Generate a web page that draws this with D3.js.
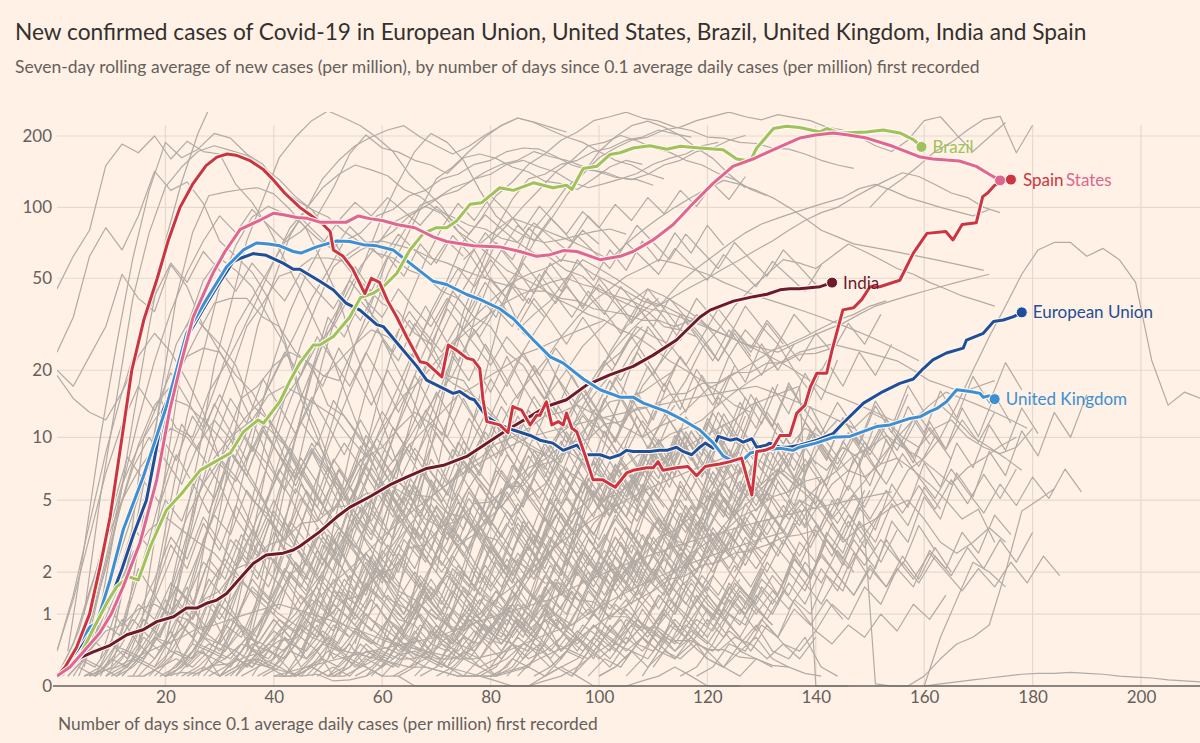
<!DOCTYPE html>
<html><head><meta charset="utf-8">
<script src="https://cdn.jsdelivr.net/npm/d3@7"></script>
<style>body{margin:0;background:#fff1e5;} svg{display:block}</style>
</head><body><svg id="c" width="1200" height="743"></svg>
<script>
// ---------- DATA ----------
const titleText = "New confirmed cases of Covid-19 in European Union, United States, Brazil, United Kingdom, India and Spain";
const subtitleText = "Seven-day rolling average of new cases (per million), by number of days since 0.1 average daily cases (per million) first recorded";
const xTitleText = "Number of days since 0.1 average daily cases (per million) first recorded";
const yTicks = [0, 1, 2, 5, 10, 20, 50, 100, 200];
const xTicks = [20, 40, 60, 80, 100, 120, 140, 160, 180, 200];

const spain = [[0,0.1],[1.5,0.2],[3.6,0.45],[6,1.0],[8,2.2],[9.8,4.1],[12,10],[13.8,20],[16,33],[18.5,50],[20.5,72],[22.7,100],[25,125],[27.5,150],[29.5,163],[31.4,168],[33,166],[35.5,158],[38,145],[40,130],[42,115],[44.8,100],[47,92],[49,85],[50.4,79],[51,66],[52.8,62],[54.5,55],[56.8,43],[58,50],[59.5,48],[61,40],[62.7,34],[64.5,28],[67,21.8],[68.2,21.5],[71,18.7],[72.2,25.8],[73.7,24.5],[75.6,22.6],[76.8,22.2],[78,20.4],[78.6,14.8],[79.3,11.8],[81.7,11.4],[83.2,10.5],[84.1,13.8],[85.7,13.3],[87.3,11.4],[88.5,12.6],[89.1,12.6],[90.3,14.5],[91.3,11.4],[92.5,11.8],[93.4,11.4],[94,12.9],[95,11.0],[95.9,10.6],[97.4,8.3],[98.9,6.3],[100.7,6.3],[103,5.8],[105.1,6.8],[106.3,7.0],[108.8,7.2],[110,7.2],[110.9,7.7],[111.8,7.0],[114.3,7.2],[116.4,7.3],[118,6.6],[119.6,7.3],[120.8,7.4],[122.3,7.5],[124.2,7.7],[126.3,8.0],[128.2,5.3],[129.1,8.6],[130.6,8.7],[132.1,9.0],[133.4,10.2],[135.2,10.2],[136.5,12.9],[138,14],[139,16.9],[140.2,19.4],[142,19.4],[143,24.5],[144,30],[145,36.6],[147,37.4],[148.5,40.6],[150,46],[151.8,46],[155.5,49],[158,64],[160.5,77.6],[164,79],[165.3,72.8],[167,84.6],[169.6,86],[170.8,111],[171.7,115],[173,124],[174.5,129],[176,131]];
const unitedStates = [[0,0.1],[2.4,0.2],[5,0.4],[7.9,0.67],[10,1.0],[12.2,1.6],[15.3,2.97],[18.4,6.3],[20.8,13.3],[23,22],[25.1,34],[28.8,52.7],[31,65],[33.8,80.7],[37.5,88.4],[40,94.5],[41.8,93],[44.3,90.6],[46,90],[48.5,86.6],[53.4,86.6],[55.6,92],[57.7,89.6],[60,88],[62.7,84.6],[66,82],[69.4,75],[71.9,71.7],[76.8,68.7],[81.7,68],[85.4,65],[88.5,62],[91,63],[93.4,65.6],[95.9,65],[100.2,60],[103.9,62],[106.3,65],[110,72.8],[113.7,84.6],[117.4,104],[121,126],[124.7,149],[128.4,160],[132.1,175],[137,196],[140,202],[143.2,206],[146,202],[149.4,196],[154.2,181],[159.3,163],[161.6,160],[166.5,157],[169.6,149],[172,138],[174,130]];
const brazil = [[0,0.1],[2,0.2],[4.2,0.33],[6.5,0.7],[9.2,1.23],[11,1.6],[13.2,1.87],[15,1.78],[17.2,2.83],[20.2,4.46],[23,5.4],[26.4,7.0],[28.8,7.6],[32,8.45],[34.4,10.6],[37.1,12.0],[38.1,11.6],[39.6,13.0],[41.1,14.5],[43,18],[44.8,21.5],[47.3,25.8],[48.5,25.8],[51,28.1],[54,34],[56,41.3],[58.4,43.2],[60.2,46],[62.7,52.5],[65.1,66],[67.6,77.6],[70,82],[71.9,82],[73.7,87.5],[76.2,103],[78.3,104.5],[81.7,121],[84.2,118],[87.9,127],[91.5,121],[94,124],[95,119],[97.1,146],[99.6,149],[102,167],[103.9,170],[106.3,178],[109.4,182],[112.5,176],[115,181],[118.6,178],[122.9,175],[125.4,160],[127.9,157],[129.1,178],[132.2,215],[134.6,220],[137,217],[140.8,208],[142,215],[144.4,206],[149.4,208],[152.4,212],[155.5,206],[158,193],[159.5,180]];
const unitedKingdom = [[0,0.1],[1.2,0.17],[3.5,0.45],[6.1,0.77],[7.3,0.83],[9.8,1.78],[12.2,3.5],[15.9,6.5],[20.2,13.8],[23.9,28.9],[27.6,40.6],[31.3,56],[34.4,66],[36.8,70.6],[39,70],[41.1,68.7],[43.6,65],[45,64],[47.9,68],[51.6,72],[54,71.7],[56.5,69.5],[59,68.7],[62,66],[65.1,58],[69.4,48.5],[71.9,47],[75.6,42.6],[78,40.6],[81.7,37],[84.2,33.5],[87.9,27.1],[91,22.9],[93.4,21.5],[97.1,18.3],[100.2,16.4],[103.9,15.2],[106.3,15.2],[108.2,14.3],[112.5,13.1],[115.5,12],[118.6,10.8],[121.1,9.4],[122.9,8.2],[124.8,7.7],[126.6,7.85],[127.9,8.45],[130.3,8.7],[133.4,8.9],[135.8,8.7],[137,9.0],[140,9.4],[143.2,10],[146.3,10.1],[151.2,11.2],[153.7,11.4],[157.4,12.2],[159.2,12.4],[161,13.1],[162.3,13.5],[164.1,14.5],[166,16.4],[168.5,16.1],[170.3,15.8],[170.9,15.2],[172,15.4],[173,14.9]];
const europeanUnion = [[0,0.1],[2,0.25],[5,0.55],[8,0.95],[10,1.35],[12,2.1],[14.1,3.3],[16.5,5.0],[18,8],[19.6,13.3],[21,16],[23.3,26.3],[27.6,39],[30,48],[32.5,58.8],[34,61],[36.2,63.7],[38.6,62.6],[41.7,58],[43.6,54.6],[44.8,54.6],[48.5,48.5],[51,44.5],[53.4,39],[55.9,36.5],[59,31.6],[60.2,31],[63.3,25.4],[66.4,20.8],[68.2,18.1],[70.7,16.9],[73.1,15.8],[74.3,16.1],[76.2,15],[77,14.8],[79.3,12.4],[81.7,11.4],[84.2,10.8],[87.3,10.2],[89.1,9.7],[91.5,9.4],[93.4,8.7],[95.9,9.2],[97.7,8.3],[100.2,8.3],[102,8.0],[103.9,8.3],[105.1,8.7],[106.3,8.6],[109.4,8.6],[111.2,8.7],[112.5,8.7],[114.3,9.0],[115.5,8.6],[117.1,8.3],[118.6,9.0],[119.6,9.4],[121.1,8.9],[122,10.1],[124.2,9.7],[125.4,9.85],[126.6,9.5],[128.2,9.85],[129.1,9.0],[130.9,9.2],[131.5,9.4],[133.4,9.0],[135,9.0],[137,9.2],[140.2,9.7],[143.2,10.4],[145,11.6],[148.8,14.3],[152.4,16.1],[155.5,17.5],[158,18.3],[159.8,20.3],[161.6,22.2],[164.1,23.8],[167.2,25],[167.8,27.1],[170.9,29],[172.8,32.6],[174.6,33.1],[176.5,34.2],[178,35.7]];
const india = [[0,0.1],[2.4,0.2],[4.2,0.31],[6.7,0.39],[9.8,0.48],[12.9,0.64],[15.9,0.72],[18.4,0.86],[21.5,0.95],[23.9,1.12],[25.8,1.12],[27.6,1.22],[29.5,1.29],[31.3,1.44],[33.2,1.73],[36.2,2.26],[38.6,2.54],[41.7,2.6],[43.6,2.71],[44.8,2.85],[48.5,3.43],[51.6,4.1],[54,4.6],[57.7,5.2],[61.4,5.95],[64.5,6.5],[68.2,7.15],[71.3,7.4],[75.6,8.15],[79.3,9.4],[83,10.8],[86.7,12.2],[90.3,13.8],[94,14.8],[97.7,17.2],[102,19.1],[106.3,20.8],[110,23.3],[114.3,27.1],[118.6,34],[120.5,36.5],[124.8,39.9],[128.5,41.7],[131,42.7],[133.4,44.6],[135.2,45.1],[137,45.1],[140.8,46],[143,47.9]];

// background countries: first day, then values every 3 days
const greyStart = [0,0,0,0,5,2,10,20,30,35,25,10,40,15,20,45,70,5,25,15,20,50,30,40,15,3,8,12,18,22,28,5,35,10,45,60,70,80,90,100,110,0,2,5,15,20,0,0,30,40,157,160,160,148,150,120,125,95,100,60,100,110,85,75,0,3,6,9,12,25,33,50,65,1,4,7,
  0,1,2,4,6,8,10,12,14,16,18,20,22,24,26,28,30,32,34,36,38,40,42,44,46,48,52,55,58,62,66,70,75,80,85,90,95,100,105,115,
  20,30,40,50,60,25,55,35,45,65,
  0,3,5,7,9,11,13,17,19,21,23,27,31,33,37,41,47,51,57,63,67,72,78,83,88,98,108,118,2,0];
const greyValues = [
[45,62,80,150,185,170,200,160,190,172,168,125,105,82,60,44,31,22,14,9,6,4,3,2.2,1.6,1.1,0.8,0.6,0.5,0.3,0.4,0.6,1.1,2,3.5,5,8,11,14],
[24,34,62,82,66,92,142,118,128,104,72,62,53,41,27,16,11,7,4.5,3,2.1,1.4,1.1,0.7,0.5,0.3,0.2,0.3,0.5,0.9,1.5,2.6,4,6.5,9,12,17,21,26,31],
[20,17,23,31,52,41,36,57,46,31,26,21,14,12,8,6.2,4.1,3.2,2.1,1.6,1.3,0.9,0.8,0.5,0.4,0.6,0.5,0.9,1.2,1.8,2.4,3.1,2.6,3.8,4.6,5.9,7.3,6.1],
[19,15,13,12,16,23,29,24,18,13,8,6.5,5,4.2,3,2.6,1.9,1.4,1.1,0.8,0.6,0.5,0.35,0.3,0.2,0.15,0.1,0.1,0.15,0.2,0.1],
[0.2,1.1,4,12,31,72,128,205,290],
[0.4,2.8,10,26,61,118,188,162,176,205,196,168,152,122,108,98,79,61,46,31,22,16,11,7,5,3.5,2.4,1.7,1.1,0.8,0.5,0.4,0.3],
[0.2,1,4.2,15,41,78,112,116,119,121,114,98,81,58,41,24,16,10,6.2,4.1,3,2.2,1.8,1.3,1.1,1.5,2.3,3.6,5.2,7.7],
[1,3.2,8,21,38,72,108,162,198,232,255,238,221,197,172,138,118,101,79,71,62,54,50,46,41,38,35,33],
[0.5,2.1,5,11,15,19,26,31,42,61,92,128,172,205,188,158,118,92,81,74,71,73,76,79,81,77],
[0.5,2,5.2,10,19,31,41,56,69,86,94,101,112,118,132,138,152,158,148,141,128,121,126,132,139,152,161,168,182,188],
[1,4,9.5,15,17,21,24,22,19,18,26,34,52,71,98,132,148,172,198,222,238,228,212,198,188,172,158,151,139,132],
[0.5,2.2,10,15,11,10,16,21,29,41,59,82,98,132,158,182,198,212,221,198,182,168,181,202,221,238,229,218,208],
[0.3,1,3.1,8,15,26,39,61,79,102,109,121,128,141,152,158,172,164,158,149,141,134,131,138,151,158,172,178,192,201],
[0.5,1.4,4,8.5,12,19,31,41,54,71,79,92,121,168,202,178,171,158,151,139,162,168,161,148,141,129,126,119,132,148,158,152],
[0.5,2,5.2,8,10,12.5,15,21,29,41,54,72,78,92,98,112,118,132,138,152,158,172,178,176,164,151,144,141,133,131,124],
[0.3,1,2.1,4,6.3,10,15,24,36,49,72,88,112,128,152,168,192,208,232,241,252,238,231,218,211,198,196,188,186,178,176,168,158,151,146],
[2,5.3,10,19,36,54,81,98,122,138,162,178,192,198,212,218,232,242,252,241,234,246,239,232,218,212,198,182,172,192,232,241,202,172,198,228],
[1,5.2,15,41,78,122,148,172,182,174,166,148,131,111,98,91,79,71,64,61,54,51,44,41,34,31,24,21,16,12.5,9,7],
[0.5,2.1,6,15,31,49,76,99,121,138,151,144,136,119,111,98,91,84,81,74,71,64,61,54,51,44,41,38,36,31,30,28],
[0.4,1.6,5,12.5,24,46,69,91,101,94,86,74,66,54,46,39,36,29,26,19,18,14,12,10,9,8.2,10.5,12,15.5,19,26,31],
[0.5,2.2,6,12,19,31,39,51,54,61,61,59,66,71,79,92,101,94,79,66,49,41,29,26,19,15,12,10.5,8,6.2,5],
[0.3,1.1,3,6.2,10,15,21,29,41,54,71,84,101,119,141,158,182,188,201,191,178,171,158,151,139,131,119,112],
[0.3,1,3.2,8,15,26,39,56,64,71,72,69,66,61,58,54,51,48,46,44,44,41,40,37,36,35,33,33,31,33,35],
[0.2,0.5,1.1,2,2.9,4.1,5,7.2,9,12,15.5,19,27,33,43,54,71,88,112,138,172,198,221,231,218,201,178,161,138,121],
[0.5,3.1,10,31,49,61,54,46,34,26,15,10,6.2,4,3.1,2.4,3.2,5,10.5,19,36,54,81,108,132,138,152,158,172,178,192,198,212,204,198],
[0.2,0.8,2.1,5,9.2,14,17,23,25,24,19,16,12,9.5,7,5.2,3.8,3.1,2.4,2,1.5,1.3,1,0.8,0.7,0.9,1.3,2,3.1,5.2,8,12.5,17,24,31,36,41],
[0.3,1.1,3,6.2,12,21,29,39,41,41,34,31,24,21,14,12.5,10,8,5.8,5.2,4,3.6,2.9,3.3,4.1,5,6.2,7.8,10,13.5,16,21,24,31,28,26],
[0.2,0.5,1.3,2.4,4.1,6,7.8,10.5,12,11,9.2,6.8,5.1,4,3,2.1,1.4,1.2,1,1.4,2,3.1,3.9,5.2,6,7.2,7.9,9.1,8,6.9,6.1,5,4.2,3.5,3.1,2.8],
[0.2,0.6,1.4,3.1,5,8.2,12,15.5,17,15.5,14,12.5,10,8.1,9,11,13,11.5,10,7.8,6.2,5,4.1,5.2,6,8.1,10,12,14.5,15,16,18,20],
[0.2,0.4,0.8,1.6,2.4,4.1,6,9.2,13,18.5,22,26,30,28,24.5,22,20,17.5,16,14,11.5,10,9,8.1,7,6.2,5,5.3,6,7.2,8,9.3],
[0.2,0.3,0.5,0.8,1.2,1.9,2.4,3.6,5,7.2,9,12,15.5,18,22,26,30,34,38.5,42,45,48,50,47,45,42,40,37,36,34,32,30,28],
[0.3,1.6,4,7.2,10,7.8,6,9.2,12,9.8,7,5.1,3,2.1,1.5,1,0.8,0.6,0.5,0.4,0.3,0.2,0.15,0.1,0.1,0.2,0.3,0.5,0.8,1,1.5],
[0.2,0.4,0.7,1,1.6,2.2,3.1,4,5.6,7,9.2,11,13,15.5,17,19,21,23.5,25,27,29,31,33,30,28,25,22,20,18,16,14,13],
[0.5,2.1,6,14,26,35,29,22,15,10.5,7,5.2,3.5,2.4,1.8,1.2,0.9,0.7,0.5,0.4,0.3,0.3,0.4,0.6,1,1.5,2.4,4,6.2,9,13,18,24,30],
[0.1,0.3,0.6,1,1.6,2,3.1,4,5.2,6,7.2,8,9.3,10,11,12.5,13,14,12.8,12,11,10,11.2,12,14,16.5,18,20,22,24.5,26,28,30.5,33,35,38,40],
[0.2,0.5,1,2.1,3,5.2,7,10,14.5,18,22,28,34,40,45,51,55,60,58,55,52,48,45,42,40,38,36,34,32,30,28,26,24,22],
[0.2,0.6,1.5,3.1,5,8.2,12,16,20,25.5,30,35,40,45,42,38,34,30,28,26,24,22,20,18,16,15,14,13,12,12,13,14,12,10,9,8,7],
[0.2,0.5,1,2.1,3,4.2,5,6.1,7,8.2,9,10.3,11,12,14,16,18,20,22,24,25,26,25,24,23,22,20,18,17,16,17,18],
[0.1,0.3,0.6,1,1.5,2.1,2.5,3.2,3.5,4.1,5,6.2,7,6,5.2,4,5,6.1,7,8.2,9,10.2,9,8.1,7,6,7.2,8,9.1,10],
[0.1,0.2,0.4,0.7,1,1.6,2,3.1,4,5.2,6,7.1,6,5.1,4,3,3.6,4,4.6,5,4,3,2.6,3,3.6,3],
[0.2,0.5,1,2.1,3,4.2,5,6.1,7,6,5.2,4,5,6.2,8,10,12,14,16,15,14,13,12,11],
[0.1,0.25,0.4,0.7,0.8,1.1,1.2,1,0.9,0.6,0.5,0.4,0.25,0.2,0.15,0.1,0.12,0.05,0.06,0.1,0.2,0.35,0.4,0.3,0.2,0.1,0.1,0.05,0,0,0.05,0.1,0.2,0.35,0.5,0.8,1.2,1.7,2,2.6,3,3.4,4.1,4.5,5.2,5.5,6.2,6.5],
[0.1,0.3,0.7,1.5,2.6,3.5,4.1,3.5,3,2.6,2,1.6,1.3,1,0.8,0.6,0.5,0.4,0.35,0.3,0.25,0.2,0.2,0.15,0.1,0.1,0.1,0.15,0.2,0.3,0.4,0.5,0.7,0.9,1.1,1.3,1.5,1.8,1.9,2.2,2.3,2.6,2.7,2.9,3.2,3.3,3.5],
[0.1,0.15,0.2,0.3,0.4,0.5,0.6,0.75,0.8,0.9,1,1.1,1.2,1.1,1,0.9,0.8,0.7,0.6,0.5,0.45,0.4,0.35,0.3,0.3,0.35,0.4,0.5,0.6,0.7,0.8,1,1.2,1.4,1.6,1.8,2,2.2,2.4,2.6,2.8,3,3.2,3.4],
[0.1,0.3,0.6,0.8,1.3,1.5,2.1,2.3,2.9,3.1,3.8,3.9,4.6,4.7,5.4,5.5,6.1,5.3,5.2,4.3,4.1,3.3,3.1,2.4,2.1,1.7,1.7,1.3,1.25,0.95,0.95,0.75,0.75,0.55,0.55,0.42,0.42,0.32,0.3,0.22,0.2,0.13,0.1],
[0.1,0.14,0.13,0.22,0.24,0.33,0.38,0.55,0.58,0.85,0.95,1.3,1.4,1.9,2.1,2.8,2.9,3.7,3.9,4.8,4.9,5.8,5.9,7.4,7.8,9.5,9.8,11.5,11.8,13.6,13.8,15.6,15.8,17.5,17.7,19.5,19.6,21.5,21.6,23.5,23.7,25],
[0.1,0.5,1.5,3,5,7,9,11,10,8,6,4,3,2,1.5,1,0.7,0.5,0.3,0.2,0.1,0.1,0,0,0,0,0,0,0,0,0.1,0.2,0.1,0,0,0,0.05,0.1,0.2,0.1,0,0,0],
[0.1,0.3,1,3,6,9,12,15,14,12,10,8,6,4.5,3.5,2.5,1.8,1.2,0.9,0.6,0.4,0.3,0.3,0.4,0.6,0.8,1,1.3,1.6,2,2.5,3,3.5,4,4.5,5,5.5,6,6.5,7,7.5,8,8.5],
[0.1,0.2,0.3,0.5,0.7,1,1.3,1.7,2.1,2.6,3.2,3.8,4.5,5.2,6,6.8,7.6,8.4,9.2,10,10.5,11,11.5,12,12.5,13,13.5,14,14.5,15,15.5,16,16.5,17,16,15,14,13,12,11],
[0.1,0.15,0.2,0.25,0.3,0.35,0.4,0.45,0.5,0.55,0.6,0.7,0.8,0.9,1,1.1,1.2,1.3,1.5,1.7,1.9,2.1,2.3,2.5,2.7,2.9,3.1,3.3,3.5,3.7,3.9,4.1,4.3,4.5,4.7,4.9,5.1,5.3,5.5],
[0,0.1,0.3,0.5,0.6,0.8,2,4.4,5,5.7],
[0,0.6,1.3,2.3,2,1.6],
[0,0.02,0.04,0.06,0.08,0.1,0.12,0.13,0.13,0.14,0.13,0.12,0.1,0.09,0.08,0.06,0.05,0.04],
[3,4,5,7,8,10,14,20,28,38,52,66,71,71,62,67,60,48,22,14,16,15],
[100,118,132,150,172,188,212,235,242,170,222],
[4,6,5,8,7,9,11,10,12,11,13,12,10,9,11,12,10,9,8.4,9,11],
[2,3,2.5,4,5,4.5,6,7,6.5,7.5,8,7,6,5,4,4.5,3],
[3,4,5,6,5,7,8,9,10,11,12,14,15,16,17,0,0,0],
[1,2,1.5,3,2,4,3,5,4,6,5,7,6,8,7,9,8,0.02,0,0],
[5,8,12,18,25,30,36,42,48,52,55,60,58,52,48,44,40,38,42,46,50,55,60,66,72,80,88,95,100,110,120,130,140,135,125,115,110,100,95],
[20,25,30,35,40,48,55,62,70,78,85,90,95,100,105,110,120,125,118,110,105,100,96,92,98],
[10,14,18,25,30,38,45,52,60,58,55,62,70,65,60,55,52,48,45,42,40,38],
[30,35,40,50,60,55,50,45,40,38,35,33,30,28,26,25,24,26,28,30,32,35,38,40,42,44,46,48,50,52],
[60,70,80,90,85,80,75,70,65,60,70,80,90,100,110,120,130,125,118,110,100,90,80,75,70,68,66,64,62,60,58,56,54],
[0.1,0.2,0.6,0.4,0.9,0.5,0.3,0.7,0.2,0.4,0.1,0.3,0.6,0.2,0.1,0.4,0.8,0.3,0.5,0.2,0.1,0.3,0.7,0.4,0.2,0.6,0.3,0.1,0.2,0.5,0.9,0.4,0.6,0.3,0.8,0.5,1.1,0.7,0.4,0.6,0.3,0.2,0.5,0.8,0.4,0.3,0.6,0.2,0.1],
[0.1,0.4,1.2,0.8,2.1,1.4,0.9,1.6,0.7,0.5,0.9,0.4,0.3,0.6,0.2,0.4,0.1,0.2,0.5,0.3,0.7,1.1,0.6,0.9,0.4,0.3,0.7,1.2,0.8,1.6,1.1,2,1.4,0.9,1.3,0.8,0.5,0.9,0.6,1.1,0.7,0.4,0.6,0.3,0.2],
[0.1,0.2,0.5,1,1.8,3.2,2.4,4.1,3,2.2,3.5,2.6,1.8,1.2,1.6,0.9,0.6,1,0.7,0.4,0.6,0.3,0.2,0.4,0.2,0.1,0.3,0.2,0.5,0.3,0.6,0.4,0.2,0.5,0.8,0.5,0.3,0.6,0.4,0.2,0.1,0.3,0.2],
[0.1,0.2,0.3,0.6,0.4,0.8,1.3,0.9,1.5,2.2,1.6,2.8,2,3.3,2.5,1.8,2.6,1.9,1.3,2,1.4,0.9,1.5,1.1,0.7,1.2,0.8,0.5,0.9,0.6,0.4,0.7,1.1,0.8,1.4,1,1.7,1.2,0.9,1.5,1.1,0.8],
[0.1,0.3,0.7,1.4,2.8,5.1,7.5,6.2,9.1,7.4,5.6,8,6.1,4.4,5.9,3.8,2.9,4.2,3.1,2.2,3.4,2.5,1.7,2.6,1.8,1.2,1.9,1.4,2.2,1.6,2.5,3.6,2.7,4,3.1,4.6,3.5,5.2,4.1,3.2],
[0.1,0.2,0.4,0.8,0.6,1.2,1.9,1.4,2.5,3.6,2.8,4.3,3.3,5.2,4.1,6.4,5,7.3,5.8,4.6,6.2,4.9,3.7,5.1,3.9,2.8,4,3.1,2.2,3.3,2.5,3.8,2.9,2.1,3.2,2.4],
[0.1,0.3,0.2,0.6,0.4,1,0.7,1.5,1.1,2.1,1.6,2.9,2.2,3.8,2.9,4.7,3.6,2.7,3.9,2.9,2,3,2.2,1.5,2.4,1.7,1.1,1.8,1.3,0.8,1.4,1,1.7,1.2,2,1.5,2.6,1.9,3.1,2.3],
[0.1,0.2,0.5,0.3,0.8,0.6,1.4,1,2,1.5,2.8,2.1,3.9,2.9,5.1,3.8,6.4,4.9,7.6,5.8,8.7,6.6,5,7.2,5.5,4.1,6,4.6,3.4,5,3.8,2.8,4.2,3.2,2.3,3.5],
[0.2,0.4,0.3,0.7,0.5,1.1,0.8,1.6,1.2,2.3,1.7,3.1,2.4,1.8,2.7,2,1.4,2.2,1.6,1.1,1.8,1.3,0.9,1.5,1.1,0.7,1.2,0.9,1.6,1.2,2.1,1.6,2.7,2.1,3.4,2.6,4.2,3.3],
[0.1,0.3,0.2,0.5,0.4,0.9,0.6,1.3,0.9,1.8,1.3,2.5,1.8,3.4,2.5,4.5,3.3,5.8,4.3,7.2,5.4,8.9,6.7,10.5,8,12.2,9.3,13.8,10.6,15.3,11.8,9.5,12.6,10.1,8.2,11],
[0.2,0.1,0.3,0.2,0.6,0.4,0.9,0.6,1.3,0.9,1.8,1.3,2.4,1.7,1.2,1.9,1.4,0.9,1.5,1.1,0.7,1.2,0.8,0.5,0.9,0.6,1.1,0.8,1.4,1,1.8,1.3,2.3,1.7,2.9,2.2,3.6,2.7,4.4],
[0.1,0.2,0.4,0.3,0.7,1.2,0.9,1.6,2.4,1.8,3,2.3,3.9,3,2.2,3.4,2.6,1.9,2.9,2.2,1.6,2.5,1.9,1.4,2.2,1.6,2.6,2,3.2,2.5,3.9,3.1,4.8,3.8,5.9,4.6],
[0.4,1.3,3.2,6.8,11.5,17,13.2,19.5,14.8,11,15.6,11.7,8.6,12.3,9.2,6.6,9.5,7,5,7.4,5.5,3.9,5.8,4.3,3.1,4.6,3.4,2.4,3.6,2.7,4,3,4.4,3.3,4.9,3.7,2.7],
[0.2,0.7,1.9,4.3,8.1,6.3,10.2,7.8,12.5,9.6,7.2,10.8,8.1,6,8.9,6.6,4.8,7.1,5.3,3.9,5.8,4.3,3.1,4.6,3.4,5.1,3.8,5.7,4.3,6.4,4.8,7.2,5.4,8.1,6.1],
[0.1,0.3,0.2,0.5,0.9,0.6,1.3,0.8,0.5,0.9,0.4,0.2,0.5,0.3,0.1,0.3,0.6,0.4,0.8,1.2,0.7,0.4,0.9,0.5,0.3,0.6,1,0.6,0.3,0.5,0.2,0.1,0.3,0.6,0.9,0.5,0.8,1.3,0.9,0.6,1.1,0.7,0.4,0.8,0.5,0.3,0.6],
[0.1,0.6,1.8,3.5,6.2,4.8,8.3,6.1,4.3,6.9,4.8,3.2,5,3.4,2.2,3.6,2.3,1.5,2.5,1.6,1,1.7,1.1,0.7,1.2,0.8,0.5,0.9,0.6,1.1,0.7,1.3,0.9,1.7,1.2,2.2,1.6,2.8,2,3.4,2.5,4.1,3],
[0.1,0.2,0.4,0.3,0.6,0.5,0.9,0.7,1.2,0.9,1.6,1.2,2.1,1.6,2.7,2,3.3,2.4,1.8,2.6,1.9,1.3,2,1.4,0.9,1.5,1,0.6,1.1,0.7,0.4,0.8,0.5,0.3,0.6,0.4,0.8,0.5,0.9,0.6,1.1,0.7,1.3],
[0.1,0.5,1.4,3.1,6.4,11.5,8.8,14.2,10.6,7.8,11.3,8.2,5.9,8.6,6.1,4.3,6.3,4.4,3.1,4.5,3.2,2.2,3.3,2.3,1.6,2.4,1.7,1.2,1.8,1.3,2,1.4,2.2,1.6,2.5,1.8,2.8,2.1,3.2,2.4],
[0.1,0.2,0.5,0.9,1.6,1.2,2.4,1.8,3.3,2.5,4.4,3.3,5.6,4.2,7,5.3,8.4,6.4,4.8,7,5.3,3.9,5.8,4.3,3.2,4.8,3.5,2.6,3.9,2.9,2.1,3.2,2.4,1.8,2.7,2,3,2.2,3.4,2.5],
[0.1,0.3,0.2,0.4,0.3,0.6,0.4,0.8,0.6,1.1,0.8,1.4,1,1.8,1.3,2.3,1.7,2.9,2.1,3.5,2.6,4.2,3.1,5,3.7,5.9,4.4,6.8,5.1,7.8,5.9,8.7,6.6,9.8,7.4,5.6,8.3,6.3,9.2],
[0.1,0.4,1.1,2.6,5.2,9.4,15,11.6,18.3,13.9,10.4,15.2,11.3,8.3,12,8.8,6.4,9.3,6.8,4.9,7.1,5.2,3.8,5.5,4,2.9,4.2,3.1,2.2,3.3,2.4,3.5,2.6,3.8,2.8,4.1,3],
[0.1,0.2,0.3,0.2,0.4,0.3,0.5,0.4,0.7,0.5,0.9,0.6,1.1,0.8,1.3,0.9,0.6,1,0.7,0.5,0.8,0.5,0.3,0.6,0.4,0.2,0.4,0.3,0.6,0.4,0.8,0.5,1,0.7,1.3,0.9,1.6,1.1,2],
[0.1,0.3,0.8,1.9,3.6,6.6,11,17,24,19,28,22,17,24,18,13,19,14,10,15,11,8,12,9,6.5,9.6,7.1,5.2,7.7,5.7,4.2,6.2,4.6,6.8,5,7.4,5.5,8.1],
[0.1,0.2,0.5,0.4,0.9,0.7,1.5,1.1,2.3,1.7,3.3,2.5,4.6,3.4,2.5,3.7,2.7,2,2.9,2.1,1.5,2.2,1.6,1.2,1.7,1.2,0.9,1.3,1,1.5,1.1,1.7,1.2,1.9,1.4,2.2,1.6,2.5],
[0.1,0.3,0.7,1.5,2.9,5.3,9.1,14.6,22,17,25,19,14,20,15,11,16,12,8.7,12.8,9.4,6.9,10.1,7.4,5.4,8,5.9,4.3,6.3,4.6,3.4,5,3.7,5.4,4,5.9],
[0.1,0.2,0.1,0.3,0.2,0.4,0.3,0.6,0.4,0.8,0.6,1,0.7,1.3,0.9,1.6,1.1,2,1.4,2.4,1.7,2.9,2.1,3.5,2.5,1.8,2.7,2,1.4,2.1,1.5,1.1,1.6,1.2,1.8],
[0.1,0.4,1,2.2,4.3,7.8,13,20,29,40,33,45,36,28,38,29,22,30,23,17,24,18,13,19,14,10,15,11,8,12,9,6.5,9.6,7],
[0.1,0.2,0.4,0.8,1.4,2.3,1.8,3.2,2.5,4.3,3.3,5.6,4.3,7.1,5.5,8.8,6.8,10.6,8.2,12.5,9.7,14.5,11.2,16.5,12.8,18.6,14.4,20.8,16,23],
[0.1,0.3,0.2,0.5,0.4,0.8,0.6,1.2,0.9,1.7,1.3,2.3,1.7,1.3,1.9,1.4,1,1.5,1.1,0.8,1.2,0.9,0.6,1,0.7,0.5,0.8,0.6,0.4,0.7,0.5,0.9,0.6,1.1,0.8],
[0.1,0.3,0.8,1.6,3,5.4,9,14,21,30,24,33,26,20,28,21,16,23,17,13,19,14,10,15,11,16,12,18,13,19,14,21],
[0.1,0.2,0.3,0.5,0.4,0.7,0.5,1,0.7,1.4,1,1.9,1.4,2.5,1.8,3.2,2.3,4.1,3,5.1,3.7,6.2,4.5,7.4,5.4,8.6,6.3,9.9,7.2,11.2,8.1,12.5],
[0.1,0.4,0.3,0.8,0.6,1.5,1.1,2.6,1.9,4.2,3.1,6.3,4.7,8.8,6.6,11.6,8.7,6.5,9.4,7,5.2,7.6,5.6,4.1,6,4.4,3.2,4.7,3.4,5,3.7,5.4,4],
[0.1,0.2,0.5,1.1,2.1,3.8,6.4,10,15,22,31,42,55,46,60,49,40,52,42,34,44,36,29,38,31,25,33,27,22,29,23],
[0.1,0.1,0.2,0.3,0.2,0.4,0.3,0.6,0.4,0.8,0.6,1.1,0.8,1.4,1,1.8,1.3,2.2,1.6,2.7,2,3.2,2.3,1.7,2.5,1.8,1.3,1.9,1.4,1,1.5],
[0.1,0.3,0.7,1.5,2.8,4.9,3.8,6.3,4.8,7.9,6,9.6,7.3,11.4,8.6,13.3,10.1,7.6,11,8.3,6.2,9,6.8,5.1,7.4,5.6,4.2,6.1,4.6,6.7],
[0.1,0.2,0.4,0.3,0.7,0.5,1.1,0.8,1.6,1.2,2.2,1.6,2.9,2.1,3.7,2.7,4.6,3.4,5.6,4.1,6.7,4.9,7.9,5.8,9.2,6.7,10.6,7.7,12.1],
[0.1,0.3,0.9,2.1,4.4,8.3,14,22,32,44,36,48,39,31,41,33,26,34,27,21,28,22,17,23,18,14,19,15],
[0.1,0.2,0.1,0.3,0.2,0.5,0.3,0.7,0.5,1,0.7,1.3,0.9,0.7,1,0.7,0.5,0.8,0.6,0.4,0.6,0.4,0.3,0.5,0.3,0.2,0.4,0.3],
[0.1,0.4,1.1,2.5,5,9,15,23,18,26,20,15,21,16,12,17,13,9.5,13.8,10.3,7.6,11,8.2,6,8.8,6.5,4.8,7],
[0.1,0.2,0.4,0.8,1.5,1.1,2.1,1.6,2.9,2.2,3.8,2.9,4.9,3.7,6.1,4.6,7.5,5.7,9.1,6.9,10.9,8.3,12.9,9.8,15.1,11.5,17.4],
[0.1,0.3,0.7,1.4,2.6,4.5,7.3,11,16,22,29,37,46,38,47,39,32,41,34,27,35,29,23,30,25,20,26],
[0.1,0.2,0.3,0.2,0.5,0.4,0.8,0.6,1.2,0.9,1.7,1.2,2.3,1.7,3,2.2,3.8,2.8,4.7,3.5,5.7,4.2,6.8,5,8,5.9,9.3],
[0.1,0.3,0.8,1.9,3.9,7.2,12,19,15,22,17,13,18,14,10,14,11,8.2,11.7,8.9,6.7,9.6,7.3,5.5,7.9,6],
[0.1,0.2,0.4,0.8,0.6,1.2,0.9,1.8,1.3,2.6,1.9,3.6,2.6,4.8,3.5,6.2,4.5,7.8,5.7,9.6,7,11.6,8.5,13.8,10.1],
[0.1,0.3,0.6,1.2,2.3,4.1,3.2,5.4,4.1,6.8,5.2,8.4,6.4,10.2,7.8,12.2,9.3,14.4,11,16.8,12.8,19.4,14.8,22.2],
[0.1,0.2,0.5,0.4,0.9,0.7,1.5,1.1,2.3,1.7,3.2,2.4,4.3,3.2,5.6,4.1,3.1,4.5,3.4,2.5,3.7,2.8,2.1,3.1],
[0.1,0.3,0.9,2.1,4.2,7.7,13,21,31,25,35,28,22,30,24,19,26,20,16,22,17,24,19,26],
[0.1,0.2,0.3,0.6,0.4,0.9,0.7,1.4,1,2,1.5,2.8,2.1,3.8,2.8,5,3.7,6.4,4.7,8,5.9,9.8,7.2],
[0.1,0.4,1,2.3,4.6,8.4,6.5,10.6,8.2,13,10.1,15.6,12.1,9.3,12.8,9.9,7.6,10.5,8.1,11.2,8.7,12.1,9.3],
[0.1,0.2,0.4,0.3,0.6,0.5,0.9,0.7,1.3,1,1.8,1.4,2.4,1.8,3.1,2.4,3.9,3,4.8,3.7,5.8,4.5],
[0.1,0.3,0.8,1.8,3.6,6.7,11.5,9,14.2,11.1,17,13.3,10.4,14.4,11.2,8.7,12,9.4,7.3,10.1,7.9],
[0.1,0.2,0.5,1,0.8,1.6,1.2,2.4,1.8,3.4,2.6,4.6,3.5,6,4.6,7.6,5.8,9.4,7.2,11.4,8.7,13.6,10.4],
[0.1,0.3,0.7,1.6,3.1,2.4,4.3,3.3,5.7,4.4,7.3,5.6,9.1,7,11.1,8.5,13.3,10.2,15.7,12,18.3,14],
[0.1,0.2,0.5,0.4,0.8,0.6,1.3,1,1.9,1.4,2.7,2,3.6,2.7,4.7,3.5,6,4.5,7.4,5.6,9],
[2,5,11,22,38,56,44,62,51,70,58,76,64,50,66,54,43,58,47,37,50,41,33,45,37,30,41,34,28,38,31,26,35,29],
[1,3,7,14,25,41,60,82,104,88,112,96,80,101,86,72,92,78,65,84,71,60,77,65,55,71,60,51,66,56,47],
[0.5,1.5,4,9,18,32,50,71,60,82,70,59,76,65,55,71,61,52,67,57,49,63,54,46,59,51,44,57],
[0.3,1,2.6,6,12,22,36,52,70,88,105,92,110,96,84,101,88,77,93,81,71,86,75,66,80,70],
[0.5,1.6,4,9,17,29,44,61,78,66,84,72,90,77,96,82,103,88,110,94,118,101,126,108,135],
[0.4,1.5,4.2,10,20,34,28,40,33,27,36,29,24,32,26,21,28,23,19,25,20,17,22,18,24,19,26,21,28,22,30,24,32,26],
[0.3,1.2,3.6,8.4,16,27,22,32,26,37,30,42,34,48,39,54,44,60,49,66,54,72,59,78,64,84,69],
[1,3.5,9,19,33,50,41,58,48,39,52,42,35,46,38,31,41,34,28,37,30,25,33,27,22,29,24,32,26,35],
[0.4,1.4,3.8,8.5,16,27,42,58,48,65,54,44,58,48,40,53,44,37,49,40,34,45,37,31,41,34,28,37,31,41,34],
[0.2,0.8,2.4,5.8,12,22,36,53,72,92,78,98,84,72,90,77,66,83,71,61,77,66,57,72,62],
[0.1,0.2,0.1,0.3,0.2,0.1,0.2,0.4,0.3,0.2,0.5,0.3,0.2,0.1,0.2,0.1,0.1,0.2,0.3,0.2,0.4,0.3,0.5,0.4,0.7,0.5,0.9,0.6,1.2,0.8,1.5,1,1.9,1.3,2.4,1.7,3,2.2,3.7,2.7,4.5,3.3,5.4,4,6.4,4.8,7.5,5.6,8.8,6.5,10.2,7.6,11.8,8.8,13.6,10.1,15.5,11.6],
[0.1,0.5,0.3,0.9,0.6,1.6,1.1,0.7,1.3,0.8,0.5,0.9,0.6,0.3,0.6,0.4,0.2,0.4,0.3,0.6,0.4,0.8,0.5,1,0.7,0.4,0.8,0.5,0.3,0.6,0.4,0.7,0.5,0.9,0.6,1.1,0.7,1.4,0.9,1.7,1.2,2.1,1.4,2.6,1.8,3.1,2.2,3.8,2.7],
[0.1,0.3,0.8,1.5,2.9,2.1,3.8,2.7,4.7,3.4,2.4,3.9,2.8,1.9,3.1,2.2,1.5,2.4,1.7,1.1,1.8,1.2,0.8,1.3,0.9,0.6,1,0.7,0.4,0.7,0.5,0.3,0.6,0.4,0.7,0.5,0.9,0.6,1.1,0.8,1.4,1,1.7,1.2,2.1,1.5,2.6,1.8,3.1,2.2,3.7,2.7],
[0.1,0.2,0.4,0.8,1.4,2.5,4.2,3.3,5.6,4.3,7.1,5.4,8.7,6.6,5,7.3,5.5,4.1,6,4.5,3.3,4.9,3.6,2.6,3.8,2.8,2,3,2.2,1.6,2.4,1.7,2.6,1.9,2.9,2.1,3.2,2.3,3.6,2.6,4,2.9,4.5,3.2,5,3.6,5.6],
[0.1,0.1,0.2,0.4,0.3,0.5,0.4,0.7,0.5,0.9,0.6,1.2,0.8,1.5,1,1.9,1.3,0.9,1.4,1,0.7,1.1,0.8,0.5,0.8,0.6,0.4,0.7,0.5,0.3,0.5,0.4,0.2,0.4,0.3,0.5,0.4,0.7,0.5,0.9,0.6,1.1,0.8,1.3,0.9],
[0.1,0.3,0.9,2.2,4.5,8.4,6.6,10.8,8.3,6.3,9.4,7.1,5.3,7.9,5.9,4.4,6.5,4.9,3.6,5.4,4,2.9,4.4,3.2,2.3,3.5,2.5,1.8,2.7,1.9,1.4,2.1,1.5,2.3,1.6,2.5,1.8,2.8,2,3.1,2.2,3.5,2.5,3.9,2.8,4.4],
[0.1,0.2,0.5,0.4,0.8,0.6,1.3,1,2,1.5,2.9,2.2,4.1,3.1,5.5,4.2,3.2,4.7,3.6,2.7,4,3,2.2,3.3,2.5,1.8,2.7,2,1.5,2.2,1.6,2.4,1.8,2.7,2,3,2.2,3.4,2.5,3.8,2.8,4.3,3.1,4.8],
[0.1,0.3,0.6,1.2,0.9,1.8,1.3,2.6,1.9,3.6,2.6,4.8,3.5,6.2,4.5,3.3,4.8,3.5,2.5,3.7,2.7,1.9,2.8,2,1.4,2.1,1.5,1.1,1.6,1.2,0.8,1.2,0.9,1.4,1,1.6,1.2,1.9,1.4,2.3,1.7,2.7,2],
[0.1,0.2,0.4,0.3,0.6,0.5,0.9,0.7,1.3,1,1.8,1.3,2.4,1.8,3.1,2.3,4,3,5,3.7,6.2,4.6,7.5,5.6,9,6.7,10.7,8,12.5,9.4,7.1,10.2,7.7,5.8,8.4,6.3,9.1,6.9,9.9,7.5],
[0.1,0.3,0.8,1.9,3.7,6.8,11.8,9.2,14.7,11.5,8.9,13.1,10.1,7.8,11.3,8.7,6.7,9.7,7.4,5.7,8.2,6.3,4.8,7,5.4,4.1,6,4.6,3.5,5.1,3.9,5.6,4.3,6.2,4.7,6.8,5.2,7.5],
[0.1,0.2,0.3,0.2,0.4,0.3,0.5,0.4,0.7,0.5,0.9,0.7,1.2,0.9,1.5,1.1,1.9,1.4,2.4,1.8,2.9,2.2,3.5,2.6,4.2,3.1,5,3.7,5.9,4.4,6.9,5.1,8,6,9.3,7,10.7,8,12.2,9.2,13.9,10.5,15.7],
[0.1,0.4,1.2,2.9,6,4.6,7.9,6.1,10.2,7.9,6.1,8.9,6.9,5.3,7.7,5.9,4.5,6.6,5.1,3.9,5.7,4.4,3.3,4.9,3.7,2.8,4.1,3.1,2.3,3.4,2.6,3.8,2.9,4.2,3.2,4.6,3.5,5.1,3.9,5.6],
[0.1,0.2,0.5,1,0.8,1.5,1.2,2.2,1.7,3.1,2.4,4.2,3.2,5.5,4.2,7,5.4,8.7,6.7,10.6,8.1,12.7,9.7,15,11.5,17.5,13.4,20.2,15.5,23.1,17.7,26.1,20],
[0.1,0.1,0.2,0.1,0.3,0.2,0.4,0.3,0.5,0.4,0.7,0.5,0.9,0.7,1.1,0.8,1.4,1,0.8,1.1,0.8,0.6,0.9,0.7,0.5,0.8,0.6,0.4,0.6,0.5,0.3,0.5,0.4,0.7,0.5,0.8,0.6,1,0.7,1.2,0.9,1.4],
[0.1,0.3,0.7,1.5,3,5.6,4.4,7.4,5.8,9.5,7.4,5.8,8.3,6.5,5.1,7.3,5.7,4.5,6.4,5,3.9,5.6,4.4,3.4,4.9,3.8,3,4.3,3.3,4.7,3.7,5.3,4.1,5.9,4.6,6.6],
[0.1,0.2,0.4,0.3,0.7,0.5,1.1,0.8,1.6,1.2,2.3,1.7,3.2,2.4,4.3,3.2,5.6,4.2,7.1,5.3,8.8,6.6,10.7,8,12.8,9.6,15.1,11.3,17.6,13.2,20.3],
[0.1,0.3,0.2,0.6,0.4,1,0.7,1.6,1.2,2.4,1.8,3.4,2.6,1.9,2.8,2.1,1.5,2.3,1.7,1.2,1.8,1.3,0.9,1.4,1,1.5,1.1,1.7,1.2,1.9,1.4,2.2,1.6,2.5,1.8,2.8,2],
[0.1,0.2,0.5,1.1,2.2,4.1,7,5.6,8.9,7.1,11,8.8,13.3,10.6,8.5,11.9,9.5,7.6,10.6,8.5,6.8,9.5,7.6,6.1,8.5,6.8,9.4,7.5,10.4,8.3,11.4,9.1,12.5,10],
[0.1,0.2,0.4,0.3,0.6,0.5,0.9,0.7,1.3,1,1.8,1.4,2.5,1.9,3.3,2.5,4.3,3.3,5.5,4.2,6.9,5.2,8.5,6.4,10.3,7.8,12.3,9.4,14.6,11.1,17.1,13],
[0.1,0.3,0.8,0.6,1.5,1.1,2.5,1.9,3.8,2.9,5.4,4.1,7.3,5.5,9.5,7.2,5.5,7.6,5.8,4.4,6.1,4.7,3.6,5,3.8,5.3,4,5.6,4.3,5.9,4.5,6.3,4.8,6.7,5.1,7.1],
[0.1,0.2,0.5,0.4,0.9,0.7,1.5,1.1,2.3,1.7,3.3,2.5,4.5,3.4,2.6,3.7,2.8,2.1,3,2.3,1.7,2.5,1.9,1.4,2.1,1.6,2.3,1.7,2.5,1.9,2.8,2.1,3.1,2.3,3.4],
[0.1,0.3,0.7,1.6,3.1,5.8,4.6,7.7,6.1,9.9,7.8,12.4,9.8,15.2,12,9.5,13,10.3,8.1,11.1,8.8,6.9,9.5,7.5,10.3,8.1,11.1,8.8,12,9.5,13],
[0.1,0.2,0.4,0.8,0.6,1.2,0.9,1.8,1.4,2.6,2,3.6,2.7,4.8,3.6,6.2,4.7,7.8,5.9,9.6,7.3,11.6,8.8,13.8,10.5,16.2,12.3,18.8,14.3,21.6,16.4],
[0.1,0.3,0.2,0.5,0.4,0.8,0.6,1.2,0.9,1.7,1.3,2.3,1.7,3,2.3,3.8,2.9,2.2,3.1,2.4,1.8,2.6,2,1.5,2.1,1.6,2.3,1.7,2.5,1.9],
[0.1,0.4,1.1,2.6,5.3,4.1,7.2,5.6,9.4,7.3,11.8,9.2,7.1,9.9,7.7,6,8.4,6.5,5.1,7.1,5.5,4.3,6,4.7,6.5,5.1,7.1,5.5],
[0.1,0.2,0.5,0.4,0.8,0.6,1.3,1,1.9,1.5,2.8,2.1,3.9,3,5.2,4,6.8,5.2,8.6,6.6,10.7,8.2,13,10,15.6],
[0.1,0.3,0.8,1.8,3.6,2.8,5,3.9,6.6,5.1,8.5,6.6,10.7,8.3,6.5,8.9,6.9,9.4,7.3,9.9,7.7,10.4],
[0.1,0.2,0.4,0.8,0.6,1.2,0.9,1.7,1.3,2.3,1.8,3.1,2.4,4,3.1,5.1,3.9,6.3,4.9,7.6],
[0.2,0.9,2.8,6.5,12.6,21,32,25,36,28,22,30,23,18,24,18,14,19,14,11,14,10.5,8,10.8,8.1,6.1,8.2,6.1,4.6,6.2,4.6,3.5,4.7,3.5,2.6,3.5,2.6,1.9],
[0.1,0.4,1.2,2.8,5.5,9.7,15.4,22.5,30,24,31,25,19.5,25,19.5,15,19,14.7,11.3,14.3,11,8.5,10.8,8.3,6.4,8.1,6.2,4.8,6.1,4.7,3.6,4.6,3.5,2.7,3.4,2.6,2,2.5,1.9,1.5,1.9,1.4]
];

// ---------- CHART ----------
const svg = d3.select("#c");
const W = 1200, H = 743;
const paper = "#fff1e5";
svg.append("rect").attr("width", W).attr("height", H).attr("fill", paper);

const x = d3.scaleLinear().domain([0, 200]).range([57, 1141]);
const y = d3.scaleSymlog().constant(1).domain([0, 200]).range([686, 136]);
const plotTop = 112, plotBottom = 686, plotLeft = 57, plotRight = 1200;

function fitText(sel, target) {
  const w = sel.node().getComputedTextLength();
  const fs = parseFloat(sel.attr("font-size"));
  sel.attr("font-size", (fs * target / w).toFixed(2));
}

const font = "Lato, 'Open Sans', sans-serif";
const title = svg.append("text").attr("x", 15).attr("y", 40).attr("font-family", font)
  .attr("font-size", 22).attr("fill", "#33302e").text(titleText);
fitText(title, 1072);
const sub = svg.append("text").attr("x", 15).attr("y", 73).attr("font-family", font)
  .attr("font-size", 16).attr("fill", "#66605c").text(subtitleText);
fitText(sub, 965);

// grid
const grid = svg.append("g");
grid.selectAll("line.h").data(yTicks.filter(d => d > 0)).join("line")
  .attr("x1", plotLeft).attr("x2", plotRight)
  .attr("y1", d => y(d)).attr("y2", d => y(d))
  .attr("stroke", "#e6d9ce").attr("stroke-width", 1.2);
grid.selectAll("line.v").data(xTicks).join("line")
  .attr("x1", d => x(d)).attr("x2", d => x(d))
  .attr("y1", 125).attr("y2", plotBottom)
  .attr("stroke", "#e6d9ce").attr("stroke-width", 1.2);

// axes
const yAxis = svg.append("g").attr("transform", `translate(${plotLeft},0)`)
  .call(d3.axisLeft(y).tickValues(yTicks).tickSize(0).tickPadding(5).tickFormat(d3.format("d")));
yAxis.select(".domain").remove();
yAxis.selectAll("text").attr("font-family", font).attr("font-size", 17).attr("fill", "#66605c");

const xAxis = svg.append("g").attr("transform", `translate(0,${plotBottom})`)
  .call(d3.axisBottom(x).tickValues(xTicks).tickSize(0).tickPadding(5).tickFormat(d3.format("d")));
xAxis.select(".domain").remove();
xAxis.selectAll("text").attr("font-family", font).attr("font-size", 17).attr("fill", "#66605c");

const xt = svg.append("text").attr("x", 58).attr("y", 730).attr("font-family", font)
  .attr("font-size", 16).attr("fill", "#66605c").text(xTitleText);
fitText(xt, 540);

// clip
svg.append("clipPath").attr("id", "clip").append("rect")
  .attr("x", plotLeft).attr("y", plotTop).attr("width", plotRight - plotLeft).attr("height", plotBottom - plotTop + 2);

const line = d3.line().x(d => x(d[0])).y(d => y(d[1]));
const plot = svg.append("g").attr("clip-path", "url(#clip)");

const greySeries = greyValues.map((vals, i) => vals.map((v, j) => [greyStart[i] + j * 3, v]));
plot.append("g").selectAll("path").data(greySeries).join("path")
  .attr("d", line).attr("fill", "none").attr("stroke", "#b2aaa4").attr("stroke-width", 1.2)
  .attr("stroke-linejoin", "round");

// baseline
svg.append("line").attr("x1", 53).attr("x2", plotRight).attr("y1", plotBottom).attr("y2", plotBottom)
  .attr("stroke", "#66605c").attr("stroke-width", 1.3);

const highlights = [
  {name: "India", data: india, color: "#6e1a2d"},
  {name: "European Union", data: europeanUnion, color: "#1f4f98"},
  {name: "United Kingdom", data: unitedKingdom, color: "#3d8fd3"},
  {name: "Brazil", data: brazil, color: "#9fc25a"},
  {name: "Spain", data: spain, color: "#cc3540"},
  {name: "United States", data: unitedStates, color: "#e0658f"}
];
const hl = plot.append("g");
highlights.forEach(s => {
  hl.append("path").attr("d", line(s.data)).attr("fill", "none")
    .attr("stroke", "#fff8f2").attr("stroke-width", 5.2).attr("stroke-linejoin", "round");
  hl.append("path").attr("d", line(s.data)).attr("fill", "none")
    .attr("stroke", s.color).attr("stroke-width", 3).attr("stroke-linejoin", "round");
});

// labels
const lab = svg.append("g").attr("font-family", font).attr("font-size", 17);
const last = s => s.data[s.data.length - 1];
function addLabel(s, dx, dy, txt) {
  const p = last(s);
  return lab.append("text").attr("x", x(p[0]) + dx).attr("y", y(p[1]) + dy).attr("fill", s.color).text(txt || s.name);
}
const byName = n => highlights.find(h => h.name === n);
addLabel(byName("Brazil"), 11, 6);
addLabel(byName("India"), 11, 6);
addLabel(byName("European Union"), 11, 6);
addLabel(byName("United Kingdom"), 11, 6);
addLabel(byName("Spain"), 12, 6);
// the United States label shows only its visible part, next to Spain's
const us = byName("United States");
lab.append("text").attr("x", 1066).attr("y", y(last(us)[1]) + 6).attr("fill", us.color).text("States");

// dots
const dots = svg.append("g");
[byName("Spain"), byName("United States"), byName("Brazil"), byName("India"), byName("European Union"), byName("United Kingdom")].forEach(s => {
  const p = last(s);
  dots.append("circle").attr("cx", x(p[0])).attr("cy", y(p[1])).attr("r", 5.5)
    .attr("fill", s.color).attr("stroke", "#fff8f2").attr("stroke-width", 1);
});
</script></body></html>
